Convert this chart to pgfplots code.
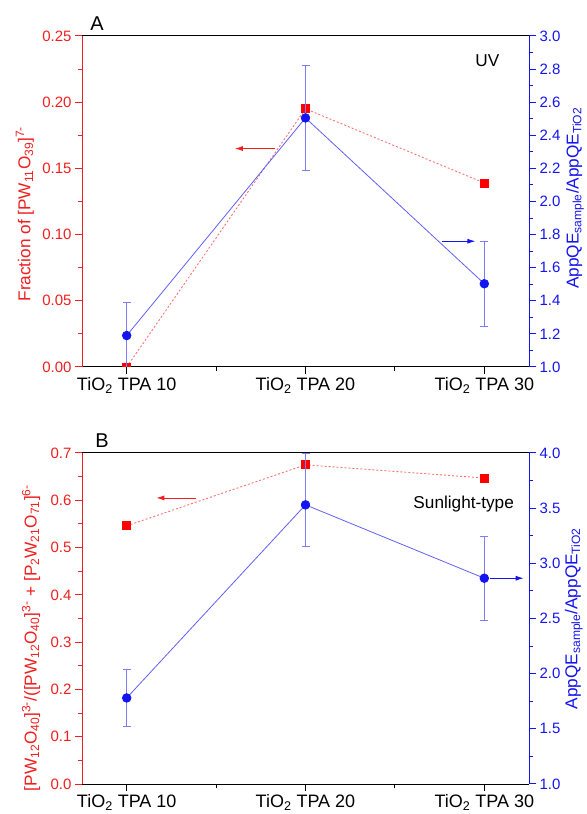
\documentclass[border=0pt]{standalone}
\usepackage{fontspec}
\setmainfont{Liberation Sans}
\usepackage{pgfplots}
\pgfplotsset{compat=1.18}
\usetikzlibrary{arrows.meta}
\definecolor{myred}{RGB}{240,30,30}
\definecolor{myblue}{RGB}{20,20,240}
\definecolor{bline}{RGB}{95,95,245}
\definecolor{ebar}{RGB}{125,125,245}
\definecolor{rline}{RGB}{250,115,115}
\newcommand{\tickfont}{\fontsize{15bp}{17bp}\selectfont}
\newcommand{\labfont}{\fontsize{17.2bp}{20bp}\selectfont}
\pgfplotsset{
  base/.style={
    scale only axis, width=447bp, height=331bp,
    xmin=-0.25, xmax=2.25,
    tick align=outside,
    major tick length=7bp, minor tick length=4bp,
    /pgf/number format/assume math mode=true,
    tick label style={font=\tickfont},
  },
  leftax/.style={base,
    separate axis lines,
    x axis line style={black, line width=1bp},
    y axis line style={myred, line width=1bp},
    ytick pos=left, xtick pos=left,
    xtick={0,1,2}, minor x tick num=1,
    xticklabels={TiO\textsubscript{2} TPA 10, TiO\textsubscript{2} TPA 20, TiO\textsubscript{2} TPA 30},
    xticklabel style={font=\fontsize{18bp}{21bp}\selectfont, black},
    xtick style={black, line width=1bp},
    ytick style={myred, line width=1bp},
    yticklabel style={myred},
    minor y tick num=1,
  },
  rightax/.style={base,
    axis y line*=right, axis x line=none,
    axis line style={myblue, line width=1bp},
    ytick style={myblue, line width=1bp},
    yticklabel style={myblue},
    minor y tick num=1,
  },
  redser/.style={rline, dash pattern=on 2bp off 2bp, line width=0.9bp, mark=square*, mark size=4bp, mark options={solid, fill=red, draw=red}},
  blueser/.style={bline, line width=0.8bp, mark=*, mark size=4.3bp, mark options={solid, fill=myblue, draw=myblue},
    error bars/.cd, y dir=both, y explicit,
    error bar style={ebar, line width=0.8bp},
    error mark options={rotate=90, mark size=4bp, ebar, line width=0.8bp}},
}
\begin{document}
\begin{tikzpicture}
\path[use as bounding box] (0,0) rectangle (587bp,814bp);
% ---------------- Panel A ----------------
\begin{axis}[leftax, at={(82bp,447bp)}, anchor=south west, clip marker paths=true,
  ymin=0, ymax=0.25, ytick={0,0.05,0.1,0.15,0.2,0.25},
  yticklabel style={/pgf/number format/.cd, fixed, fixed zerofill, precision=2},
  ylabel={Fraction of [PW\textsubscript{11}O\textsubscript{39}]\textsuperscript{7-}},
  every axis y label/.style={at={(axis description cs:-0.1275,0.462)}, rotate=90, anchor=center, font=\labfont, color=myred}]
\addplot[redser] coordinates {(0,0) (1,0.195) (2,0.139)};
\draw[myred, line width=0.8bp, -{Latex[length=8bp,width=5bp]}] (axis cs:0.83,0.165) -- (axis cs:0.605,0.165);
\node[font=\labfont, anchor=center] at (axis cs:2.017,0.231) {UV};
\end{axis}
\begin{axis}[rightax, at={(82bp,447bp)}, anchor=south west,
  ymin=1, ymax=3, ytick distance=0.2,
  yticklabel style={/pgf/number format/.cd, fixed, fixed zerofill, precision=1},
  ylabel={AppQE\textsubscript{sample}/AppQE\textsubscript{TiO2}},
  every axis y label/.style={at={(axis description cs:1.103,0.51)}, rotate=90, anchor=center, font=\labfont, color=myblue}]
\addplot[blueser] coordinates {(0,1.19) += (0,0.2) -= (0,0.19) (1,2.505) +- (0,0.32) (2,1.503) +- (0,0.255)};
\draw[myblue, line width=0.8bp, -{Latex[length=8bp,width=5bp]}] (axis cs:1.763,1.76) -- (axis cs:1.95,1.76);
\end{axis}
% ---------------- Panel B ----------------
\begin{axis}[leftax, at={(82bp,30bp)}, anchor=south west,
  ymin=0, ymax=0.7, ytick distance=0.1,
  yticklabel style={/pgf/number format/.cd, fixed, fixed zerofill, precision=1},
  ylabel={[PW\textsubscript{12}O\textsubscript{40}]\textsuperscript{3-}/([PW\textsubscript{12}O\textsubscript{40}]\textsuperscript{3-} + [P\textsubscript{2}W\textsubscript{21}O\textsubscript{71}]\textsuperscript{6-}},
  every axis y label/.style={at={(axis description cs:-0.114,0.441)}, rotate=90, anchor=center, font=\labfont, color=myred}]
\addplot[redser] coordinates {(0,0.546) (1,0.675) (2,0.647)};
\draw[myred, line width=0.8bp, -{Latex[length=8bp,width=5bp]}] (axis cs:0.385,0.605) -- (axis cs:0.166,0.605);
\node[font=\labfont, anchor=east] at (axis cs:2.185,0.592) {Sunlight-type};
\end{axis}
\begin{axis}[rightax, at={(82bp,30bp)}, anchor=south west,
  ymin=1, ymax=4, ytick distance=0.5,
  yticklabel style={/pgf/number format/.cd, fixed, fixed zerofill, precision=1},
  ylabel={AppQE\textsubscript{sample}/AppQE\textsubscript{TiO2}},
  every axis y label/.style={at={(axis description cs:1.1,0.5)}, rotate=90, anchor=center, font=\labfont, color=myblue}]
\addplot[blueser] coordinates {(0,1.78) +- (0,0.26) (1,3.53) += (0,0.47) -= (0,0.38) (2,2.865) +- (0,0.38)};
\draw[myblue, line width=0.8bp, -{Latex[length=8bp,width=5bp]}] (axis cs:2.03,2.865) -- (axis cs:2.22,2.865);
\end{axis}
\node[font=\fontsize{20bp}{24bp}\selectfont] at (97bp,790bp) {A};
\node[font=\fontsize{20bp}{24bp}\selectfont] at (102bp,373bp) {B};
\end{tikzpicture}
\end{document}
